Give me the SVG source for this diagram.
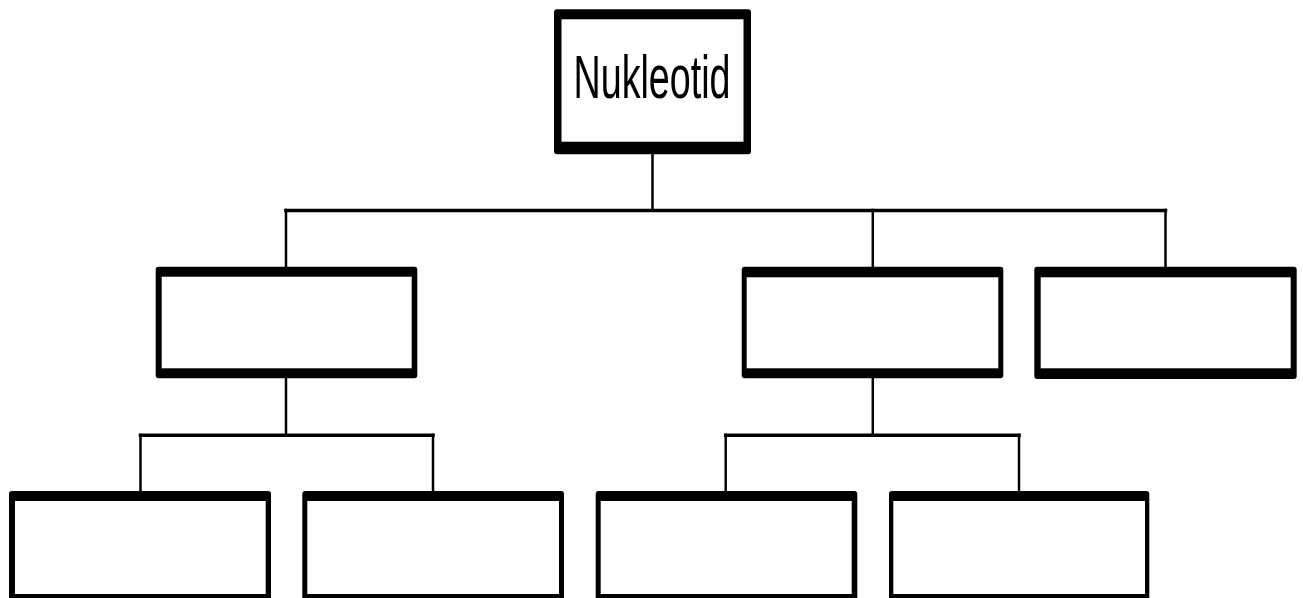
<svg xmlns="http://www.w3.org/2000/svg" width="1303" height="598" viewBox="0 0 1303 598">
  <style>
    .frame { fill: #000; }
    .face { fill: #fff; }
    .wire { stroke: #000; fill: none; stroke-linecap: square; }
    .h { stroke-width: 3.5; }
    .v { stroke-width: 2.5; }
    .label { font-family: "Liberation Sans", Arial, sans-serif; font-size: 62px; fill: #000; }
  </style>
  <rect width="1303" height="598" fill="#fff"/>

  <!-- connectors -->
  <g id="connectors">
    <line class="wire v" x1="652.5" y1="150" x2="652.5" y2="210"/>
    <line class="wire h" x1="286" y1="210.5" x2="1165.5" y2="210.5"/>
    <line class="wire v" x1="286" y1="210" x2="286" y2="270"/>
    <line class="wire v" x1="872.8" y1="210" x2="872.8" y2="270"/>
    <line class="wire v" x1="1165.5" y1="210" x2="1165.5" y2="270"/>

    <line class="wire v" x1="286" y1="375" x2="286" y2="435"/>
    <line class="wire h" x1="140.5" y1="435.3" x2="433" y2="435.3"/>
    <line class="wire v" x1="140.5" y1="435" x2="140.5" y2="494"/>
    <line class="wire v" x1="433" y1="435" x2="433" y2="494"/>

    <line class="wire v" x1="872.8" y1="375" x2="872.8" y2="435"/>
    <line class="wire h" x1="725.7" y1="435.3" x2="1019" y2="435.3"/>
    <line class="wire v" x1="725.7" y1="435" x2="725.7" y2="494"/>
    <line class="wire v" x1="1019" y1="435" x2="1019" y2="494"/>
  </g>

  <!-- root -->
  <g id="node-nukleotid">
    <rect class="frame" x="554" y="9.3" width="197" height="145" rx="3"/>
    <rect class="face" x="561.5" y="19.3" width="182" height="122.4"/>
    <text class="label" x="652" y="97.5" text-anchor="middle" textLength="157" lengthAdjust="spacingAndGlyphs">Nukleotid</text>
  </g>

  <!-- second level -->
  <g id="node-left">
    <rect class="frame" x="155.7" y="266.7" width="261.6" height="111.6" rx="3"/>
    <rect class="face" x="161.7" y="276.7" width="250" height="91.6"/>
  </g>
  <g id="node-middle">
    <rect class="frame" x="741.7" y="266.7" width="261.6" height="111.6" rx="3"/>
    <rect class="face" x="746.7" y="277.3" width="251.6" height="91"/>
  </g>
  <g id="node-right">
    <rect class="frame" x="1034.3" y="266.7" width="262.4" height="112.3" rx="3"/>
    <rect class="face" x="1040.7" y="277.3" width="250" height="91"/>
  </g>

  <!-- third level -->
  <g id="node-left-a">
    <rect class="frame" x="9" y="491" width="262" height="120" rx="3"/>
    <rect class="face" x="15" y="501" width="250.7" height="93"/>
  </g>
  <g id="node-left-b">
    <rect class="frame" x="302.3" y="491" width="261.7" height="120" rx="3"/>
    <rect class="face" x="307.3" y="501" width="251.7" height="93"/>
  </g>
  <g id="node-middle-a">
    <rect class="frame" x="595.7" y="491" width="261.6" height="120" rx="3"/>
    <rect class="face" x="600.7" y="501" width="251" height="93"/>
  </g>
  <g id="node-middle-b">
    <rect class="frame" x="889" y="491" width="260.3" height="120" rx="3"/>
    <rect class="face" x="893.3" y="501" width="251.7" height="93"/>
  </g>
</svg>
